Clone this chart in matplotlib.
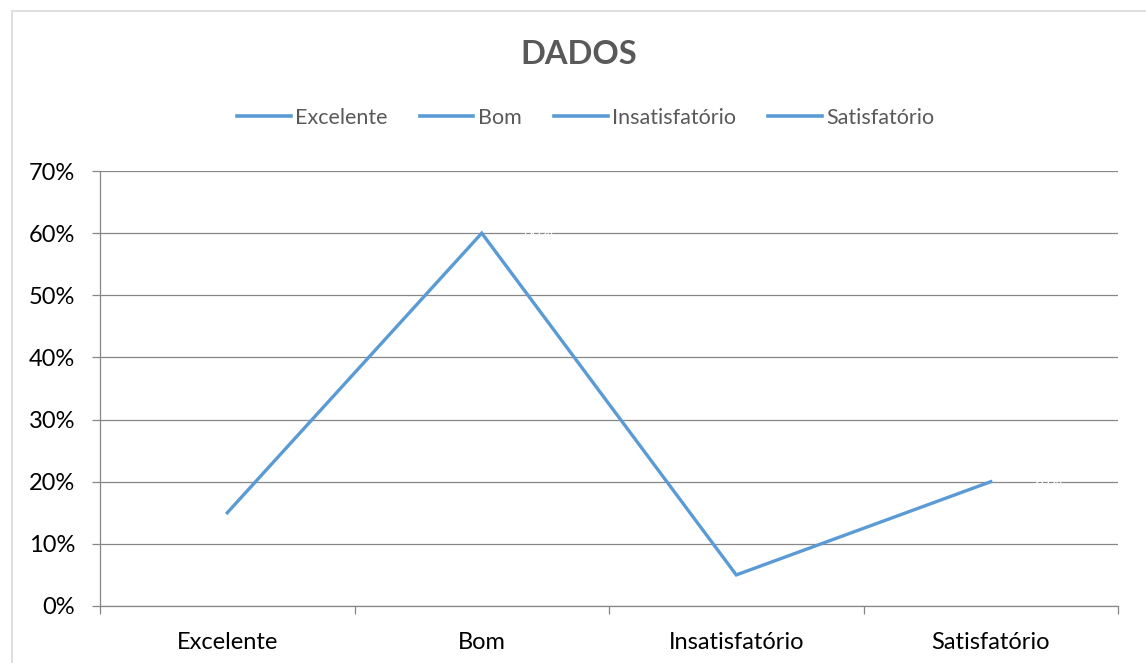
import matplotlib.pyplot as plt
from matplotlib.patches import Rectangle
from matplotlib.lines import Line2D
from matplotlib.ticker import PercentFormatter

# data
categories = ["Excelente", "Bom", "Insatisfatório", "Satisfatório"]
values = [0.15, 0.60, 0.05, 0.20]
hidden_labels = ["", "60%", "", "20%"]  # white labels that Excel left over

line_color = "#5B9BD5"
grid_color = "#878787"
font = "Lato"

fig = plt.figure(figsize=(11.46, 6.63), dpi=100)
ax = fig.add_axes([100 / 1146, 1 - 606 / 663, 1018 / 1146, 435 / 663])

# outer chart border (cut off at right and bottom like the screenshot)
fig.patches.append(Rectangle((12 / 1146, -0.05), 1.2, 1 - 11 / 663 + 0.05,
                             transform=fig.transFigure, fill=False,
                             edgecolor="#D9D9D9", linewidth=1.2))

x = list(range(len(categories)))
ax.plot(x, values, color=line_color, linewidth=2.4, solid_joinstyle="miter")

for xi, v, lab in zip(x, values, hidden_labels):
    if lab:
        ax.annotate(lab, (xi, v), xytext=(30, 0), textcoords="offset points",
                    color="white", fontsize=11, va="center", family=font)

ax.set_xlim(-0.5, 3.5)
ax.set_ylim(0, 0.7)
ax.set_yticks([i / 10 for i in range(8)])
ax.yaxis.set_major_formatter(PercentFormatter(1.0, decimals=0))
ax.yaxis.grid(True, color=grid_color, linewidth=0.9)
ax.set_axisbelow(True)

ax.set_xticks(x)
ax.set_xticklabels(categories)
ax.set_xticks([-0.5, 0.5, 1.5, 2.5, 3.5], minor=True)
ax.tick_params(axis="x", which="major", length=0, pad=19)
ax.tick_params(axis="x", which="minor", length=6, color=grid_color, width=0.9)
ax.tick_params(axis="y", length=6, color=grid_color, width=0.9, pad=12)
for lab in ax.get_xticklabels() + ax.get_yticklabels():
    lab.set_fontsize(17)
    lab.set_family(font)
    lab.set_color("black")

for side in ["top", "right"]:
    ax.spines[side].set_visible(False)
ax.spines["left"].set_color(grid_color)
ax.spines["bottom"].set_color(grid_color)
ax.spines["left"].set_linewidth(0.9)
ax.spines["bottom"].set_linewidth(0.9)

fig.text(0.505, 1 - 55 / 663, "DADOS", ha="center", va="center",
         fontsize=23.5, fontweight="bold", color="#595959", family=font)

handles = [Line2D([], [], color=line_color, linewidth=2.6) for _ in categories]
leg = fig.legend(handles, categories, loc="center", ncol=4,
                 bbox_to_anchor=(0.511, 1 - 118 / 663), frameon=False,
                 handlelength=2.5, handletextpad=0.2, columnspacing=1.5,
                 prop={"family": font, "size": 15.5})
for t in leg.get_texts():
    t.set_color("#595959")

fig.savefig("out.png", dpi=100)
